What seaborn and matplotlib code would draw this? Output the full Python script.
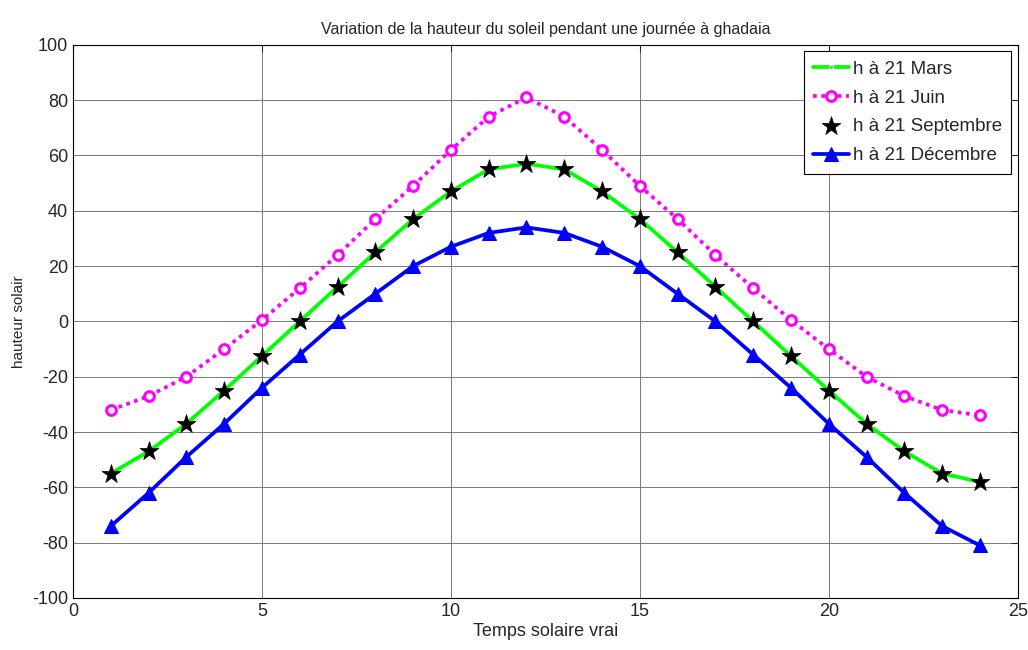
import numpy as np
import pandas as pd
import matplotlib
matplotlib.use("Agg")
import matplotlib.pyplot as plt
import seaborn as sns

heures = list(range(1, 25))
h_mars = [-55, -47, -37, -25, -12.5, 0, 12.5, 25, 37, 47, 55, 57,
          55, 47, 37, 25, 12.5, 0, -12.5, -25, -37, -47, -55, -58]
h_juin = [-32, -27, -20, -10, 0.5, 12, 24, 37, 49, 62, 74, 81,
          74, 62, 49, 37, 24, 12, 0.5, -10, -20, -27, -32, -34]
h_sept = [-55, -47, -37, -25, -12.5, 0, 12.5, 25, 37, 47, 55, 57,
          55, 47, 37, 25, 12.5, 0, -12.5, -25, -37, -47, -55, -58]
h_dec = [-74, -62, -49, -37, -24, -12, 0, 10, 20, 27, 32, 34,
         32, 27, 20, 10, 0, -12, -24, -37, -49, -62, -74, -81]

labels = ["h à 21 Mars", "h à 21 Juin", "h à 21 Septembre", "h à 21 Décembre"]

sns.set_style("white")
plt.rcParams['font.family'] = ['Liberation Sans', 'DejaVu Sans']
plt.rcParams['axes.unicode_minus'] = False

fig = plt.figure(figsize=(10.28, 6.5), dpi=100)
ax = fig.add_axes([0.071, 0.08, 0.919, 0.851])

df = pd.DataFrame({"t": heures, "mars": h_mars, "juin": h_juin,
                   "sept": h_sept, "dec": h_dec})

sns.lineplot(data=df, x="t", y="mars", ax=ax, color="#00ff00", lw=2.7,
             marker=".", markersize=6, label=labels[0])
sns.lineplot(data=df, x="t", y="juin", ax=ax, color="#ff00ff", lw=2.7,
             linestyle=(0, (1, 1.2)), marker="o", markersize=7,
             markerfacecolor="white", markeredgecolor="#ff00ff",
             markeredgewidth=2.2, label=labels[1])
sns.scatterplot(data=df, x="t", y="sept", ax=ax, color="black", marker="*",
                s=200, edgecolor="black", linewidth=0.5, label=labels[2], zorder=5)
sns.lineplot(data=df, x="t", y="dec", ax=ax, color="#0000ff", lw=2.7,
             marker="^", markersize=9.5, markeredgecolor="#0000ff",
             label=labels[3])

ax.set_xlim(0, 25)
ax.set_ylim(-100, 100)
ax.set_xticks(range(0, 26, 5))
ax.set_yticks(range(-100, 101, 20))
ax.grid(True, color="#7a7a7a", lw=0.7)
ax.tick_params(direction="in", labelsize=13, length=5, width=0.8, top=True, right=True,
               labeltop=False, labelright=False)
for s in ax.spines.values():
    s.set_color("black")
    s.set_linewidth(0.8)

ax.set_xlabel("Temps solaire vrai", fontsize=13, labelpad=2)
ax.set_ylabel("hauteur solair", fontsize=11, labelpad=4)
ax.set_title("Variation de la hauteur du soleil pendant une journée à ghadaia",
             fontsize=11.5, pad=8)

leg = ax.legend(loc="upper right", fontsize=13.5, frameon=True, fancybox=False,
                edgecolor="black", framealpha=1, handlelength=1.9,
                handletextpad=0.2, borderaxespad=0.35, labelspacing=0.62,
                borderpad=0.5)
leg.get_frame().set_linewidth(0.8)

fig.savefig("out.png", dpi=100)
